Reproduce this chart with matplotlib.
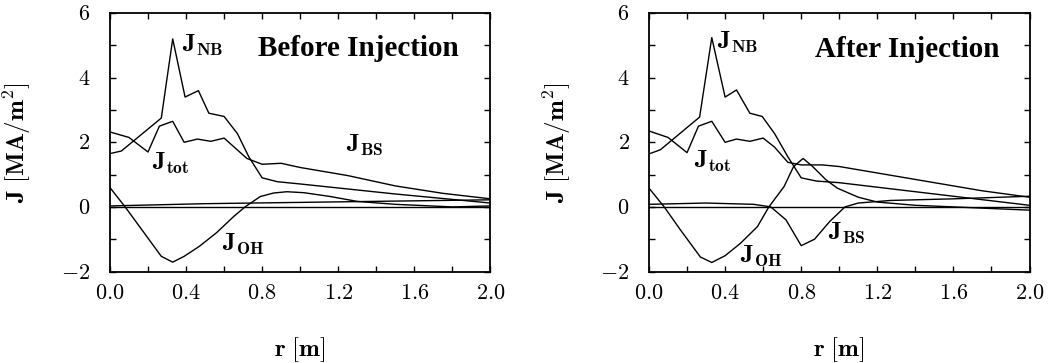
import numpy as np
import matplotlib
matplotlib.use("Agg")
import matplotlib.pyplot as plt
from matplotlib.ticker import MultipleLocator, FuncFormatter

plt.rcParams['mathtext.fontset'] = 'cm'
plt.rcParams['font.family'] = 'serif'
plt.rcParams['font.serif'] = ['Liberation Serif', 'DejaVu Serif']

# ---- Before injection ----
b_nb_r = [0.0, 0.06, 0.27, 0.33, 0.395, 0.465, 0.52, 0.6, 0.67, 0.73, 0.8, 0.88, 1.0, 1.5, 2.0]
b_nb_j = [1.65, 1.73, 2.75, 5.2, 3.4, 3.6, 2.9, 2.8, 2.27, 1.55, 0.9, 0.78, 0.71, 0.4, 0.12]

b_tot_r = [0.0, 0.1, 0.2, 0.26, 0.33, 0.39, 0.46, 0.53, 0.6, 0.72, 0.8, 0.9, 1.0, 1.25, 1.5, 1.75, 2.0]
b_tot_j = [2.32, 2.15, 1.7, 2.5, 2.65, 2.0, 2.1, 2.03, 2.13, 1.5, 1.32, 1.35, 1.22, 0.97, 0.65, 0.42, 0.25]

b_oh_r = [0.0, 0.08, 0.27, 0.33, 0.39, 0.47, 0.56, 0.65, 0.71, 0.79, 0.86, 0.93, 1.02, 1.16, 1.3, 1.5, 1.8, 2.0]
b_oh_j = [0.6, 0.0, -1.53, -1.71, -1.53, -1.22, -0.8, -0.3, 0.0, 0.32, 0.43, 0.47, 0.44, 0.32, 0.17, 0.08, 0.0, 0.03]

b_bs_r = [0.0, 0.5, 1.0, 1.5, 2.0]
b_bs_j = [0.03, 0.1, 0.14, 0.18, 0.22]

# ---- After injection ----
a_nb_r = [0.0, 0.06, 0.266, 0.33, 0.4, 0.46, 0.53, 0.595, 0.66, 0.73, 0.8, 0.88, 1.0, 1.5, 2.0]
a_nb_j = [1.64, 1.77, 2.78, 5.24, 3.4, 3.62, 2.9, 2.8, 2.27, 1.55, 0.9, 0.8, 0.75, 0.4, 0.05]

a_tot_r = [0.0, 0.1, 0.2, 0.26, 0.33, 0.4, 0.46, 0.53, 0.6, 0.66, 0.73, 0.8, 0.91, 1.0, 1.25, 1.5, 1.75, 2.0]
a_tot_j = [2.35, 2.15, 1.68, 2.5, 2.65, 2.0, 2.1, 2.03, 2.13, 1.85, 1.38, 1.3, 1.3, 1.25, 1.0, 0.75, 0.5, 0.3]

a_oh_r = [0.0, 0.08, 0.165, 0.27, 0.33, 0.4, 0.48, 0.57, 0.63, 0.71, 0.76, 0.81, 0.86, 0.93, 0.99, 1.1, 1.2, 1.4, 1.6, 1.8, 2.0]
a_oh_j = [0.58, 0.0, -0.71, -1.55, -1.72, -1.51, -1.13, -0.61, 0.0, 0.63, 1.25, 1.5, 1.25, 0.84, 0.58, 0.3, 0.15, 0.05, 0.0, -0.05, -0.1]

a_bs_r = [0.0, 0.3, 0.55, 0.64, 0.72, 0.8, 0.87, 0.95, 1.03, 1.1, 1.27, 1.6, 2.0]
a_bs_j = [0.08, 0.12, 0.08, 0.0, -0.4, -1.2, -1.0, -0.45, 0.0, 0.12, 0.2, 0.25, 0.33]

panels = [
    dict(title="Before Injection", nb=(b_nb_r, b_nb_j), tot=(b_tot_r, b_tot_j),
         oh=(b_oh_r, b_oh_j), bs=(b_bs_r, b_bs_j),
         lab={'NB': (0.38, 5.0), 'tot': (0.22, 1.35), 'OH': (0.59, -1.17), 'BS': (1.24, 1.9)},
         tpos=(0.78, 4.9)),
    dict(title="After Injection", nb=(a_nb_r, a_nb_j), tot=(a_tot_r, a_tot_j),
         oh=(a_oh_r, a_oh_j), bs=(a_bs_r, a_bs_j),
         lab={'NB': (0.36, 5.08), 'tot': (0.235, 1.4), 'OH': (0.48, -1.54), 'BS': (0.94, -0.82)},
         tpos=(0.87, 4.88)),
]

fig = plt.figure(figsize=(10.57, 3.63), dpi=100)
lefts = [0.104, 0.614]

for left, p in zip(lefts, panels):
    ax = fig.add_axes([left, 0.252, 0.36, 0.712])
    ax.axhline(0, color='black', lw=1.0)
    for key in ['nb', 'tot', 'oh', 'bs']:
        r, j = p[key]
        ax.plot(r, j, color='black', lw=1.0)

    for name, (x, y) in p['lab'].items():
        ax.text(x, y, r'$\mathbf{J}_{\mathbf{%s}}$' % name, fontsize=18,
                ha='left', va='center')
    ax.text(p['tpos'][0], p['tpos'][1], p['title'], fontsize=21, fontweight='bold',
            ha='left', va='center')

    ax.set_xlim(0, 2.0)
    ax.set_ylim(-2, 6)
    ax.xaxis.set_major_locator(MultipleLocator(0.4))
    ax.xaxis.set_minor_locator(MultipleLocator(0.2))
    ax.yaxis.set_major_locator(MultipleLocator(2))
    ax.yaxis.set_minor_locator(MultipleLocator(1))
    ax.xaxis.set_major_formatter(FuncFormatter(lambda v, pos: r'$%.1f$' % v))
    ax.yaxis.set_major_formatter(FuncFormatter(lambda v, pos: r'$%d$' % round(v)))
    ax.tick_params(which='both', direction='in', top=True, right=True,
                   length=4, width=1.0, labelsize=16)
    ax.tick_params(axis='x', pad=10)
    ax.tick_params(axis='y', pad=14)
    for s in ax.spines.values():
        s.set_linewidth(1.3)

    ax.set_xlabel(r'$\mathbf{r\ [m]}$', fontsize=18, labelpad=22)
    ax.set_ylabel(r'$\mathbf{J\ [MA/m^2]}$', fontsize=18, labelpad=20)

fig.savefig('out.png', dpi=100)
